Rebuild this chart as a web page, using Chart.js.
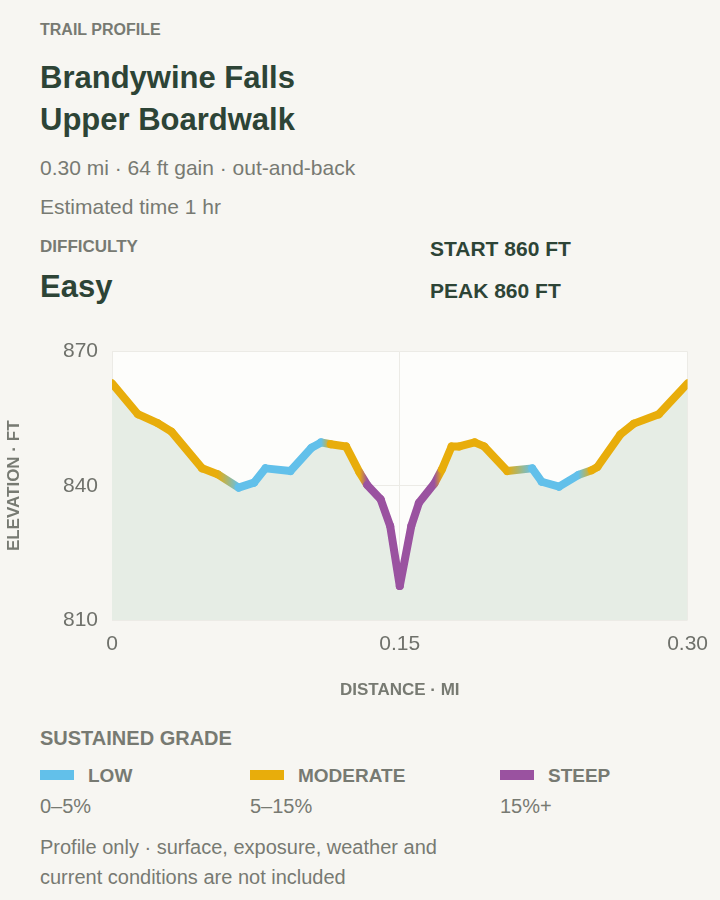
<!DOCTYPE html>
<html>
<head>
<meta charset="utf-8">
<script src="https://cdn.jsdelivr.net/npm/chart.js@4"></script>
<style>
  body { margin: 0; background: #f7f6f2; font-family: "Liberation Sans", Arial, sans-serif; }
  .page { position: relative; width: 720px; height: 900px; }
  .t { position: absolute; left: 40px; white-space: nowrap; }
  .kicker { font-size: 16px; font-weight: 700; color: #777a72; }
  .title { font-size: 31px; font-weight: 700; color: #2d4436; line-height: 42px; }
  .sub { font-size: 21px; color: #777a72; }
  .stat { position: absolute; left: 430px; font-size: 21px; font-weight: 700; color: #2d4436; }
  .chartbox { position: absolute; left: 0; top: 325px; width: 720px; height: 380px; }
  .leg { position: absolute; font-size: 19px; font-weight: 700; color: #777a72; }
  .sw { display: inline-block; width: 34px; height: 10px; margin-right: 14px; vertical-align: 2px; }
  .rng { position: absolute; font-size: 20px; color: #777a72; }
</style>
</head>
<body>
<div class="page">
  <div class="t kicker" style="top:21px">TRAIL PROFILE</div>
  <div class="t title" style="top:57px">Brandywine Falls<br>Upper Boardwalk</div>
  <div class="t sub" style="top:156px">0.30 mi · 64 ft gain · out-and-back</div>
  <div class="t sub" style="top:195px">Estimated time 1 hr</div>
  <div class="t kicker" style="top:237px;font-size:17px">DIFFICULTY</div>
  <div class="t title" style="top:266px">Easy</div>
  <div class="stat" style="top:237px">START 860 FT</div>
  <div class="stat" style="top:279px">PEAK 860 FT</div>
  <div class="chartbox"><canvas id="c"></canvas></div>
  <div class="t kicker" style="top:727px;font-size:20px">SUSTAINED GRADE</div>
  <div class="leg" style="left:40px;top:765px"><span class="sw" style="background:#62c0ea"></span>LOW</div>
  <div class="leg" style="left:250px;top:765px"><span class="sw" style="background:#e8ad0b"></span>MODERATE</div>
  <div class="leg" style="left:500px;top:765px"><span class="sw" style="background:#9a52a0"></span>STEEP</div>
  <div class="rng" style="left:40px;top:795px">0–5%</div>
  <div class="rng" style="left:250px;top:795px">5–15%</div>
  <div class="rng" style="left:500px;top:795px">15%+</div>
  <div class="t sub" style="top:832px;font-size:20px;line-height:30px">Profile only · surface, exposure, weather and<br>current conditions are not included</div>
</div>
<script>
// distance (mi), elevation (ft), grade class per point
const distance = [0, 0.0135, 0.0238, 0.031, 0.047, 0.055, 0.066, 0.074, 0.080, 0.093, 0.104, 0.109, 0.114, 0.122, 0.129, 0.133, 0.140, 0.145, 0.150,
  0.156, 0.160, 0.168, 0.172, 0.177, 0.181, 0.189, 0.194, 0.206, 0.219, 0.224, 0.233, 0.243, 0.250, 0.253, 0.265, 0.272, 0.285, 0.300];
const elevation = [862.9, 856.0, 854.0, 852.1, 843.9, 842.6, 839.6, 840.7, 843.9, 843.3, 848.5, 849.7, 849.3, 848.8, 843.0, 840.2, 837.0, 831.0, 817.6,
  831.0, 836.2, 840.5, 843.7, 848.8, 848.8, 849.7, 848.8, 843.3, 843.9, 840.9, 839.8, 842.4, 843.5, 844.2, 851.5, 853.9, 856.0, 862.9];
const grade = ["mod", "mod", "mod", "mod", "mod", "mod", "low", "low", "low", "low", "low", "low", "mod", "mod", "mod", "steep", "steep", "steep", "steep",
  "steep", "steep", "steep", "mod", "mod", "mod", "mod", "mod", "mod", "low", "low", "low", "low", "mod", "mod", "mod", "mod", "mod", "mod"];
const gradeColors = { low: "#62c0ea", mod: "#e8ad0b", steep: "#9a52a0" };
const yTicks = [810, 840, 870];
const xTicks = [0, 0.15, 0.30];

const points = distance.map((d, i) => ({ x: d, y: elevation[i] }));

// segment gradient between the two grade colours
function segColor(c) {
  const ctx = c.chart.ctx;
  const g = ctx.createLinearGradient(c.p0.x, 0, c.p1.x, 0);
  g.addColorStop(0, gradeColors[grade[c.p0DataIndex]]);
  g.addColorStop(1, gradeColors[grade[c.p1DataIndex]]);
  return g;
}

const plotBg = {
  id: "plotBg",
  beforeDraw(chart) {
    const a = chart.chartArea, ctx = chart.ctx;
    ctx.save();
    ctx.fillStyle = "#fdfdfb";
    ctx.fillRect(a.left, a.top, a.right - a.left, a.bottom - a.top);
    ctx.restore();
  }
};

new Chart(document.getElementById("c"), {
  type: "line",
  data: {
    datasets: [{
      // grade-coloured line
      data: points,
      borderWidth: 8,
      borderCapStyle: "round",
      borderJoinStyle: "round",
      pointRadius: 0,
      fill: false,
      borderColor: "#e8ad0b",
      segment: { borderColor: segColor }
    }, {
      // area under the profile
      data: points,
      borderWidth: 0,
      pointRadius: 0,
      fill: "start",
      backgroundColor: "#e6ede5"
    }]
  },
  options: {
    responsive: true,
    maintainAspectRatio: false,
    animation: false,
    layout: { padding: { top: 17, right: 28, left: 0, bottom: 0 } },
    plugins: { legend: { display: false }, tooltip: { enabled: false } },
    scales: {
      x: {
        type: "linear", min: 0, max: 0.30,
        afterBuildTicks: s => { s.ticks = xTicks.map(v => ({ value: v })); },
        afterFit: s => { s.height = 85; },
        ticks: { color: "#6f716b", font: { size: 21, family: "Liberation Sans" }, padding: 12,
          callback: v => v === 0 ? "0" : v.toFixed(2) },
        grid: { color: "#ecebe6", drawTicks: false },
        border: { display: false },
        title: { display: true, text: "DISTANCE · MI", color: "#777a72", font: { size: 17, weight: "700", family: "Liberation Sans" }, padding: { top: 6 } }
      },
      y: {
        min: 810, max: 870,
        afterBuildTicks: s => { s.ticks = yTicks.map(v => ({ value: v })); },
        afterFit: s => { s.width = 112; },
        ticks: { color: "#6f716b", font: { size: 21, family: "Liberation Sans" }, padding: 14 },
        grid: { color: "#ecebe6", drawTicks: false },
        border: { display: false },
        title: { display: true, text: "ELEVATION · FT", color: "#777a72", font: { size: 17, weight: "700", family: "Liberation Sans" }, padding: { bottom: 4 } }
      }
    }
  },
  plugins: [plotBg]
});
</script>
</body>
</html>
